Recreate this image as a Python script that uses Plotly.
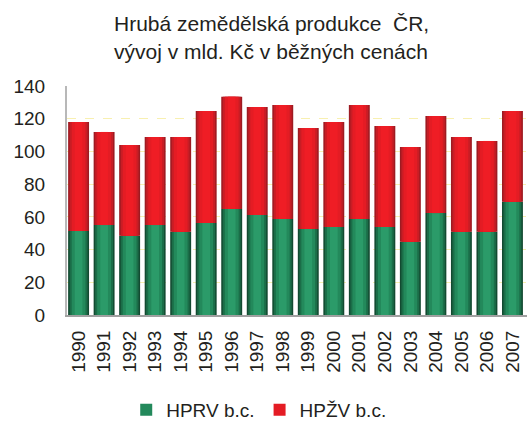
import plotly.graph_objects as go

years = ["1990", "1991", "1992", "1993", "1994", "1995", "1996", "1997", "1998",
         "1999", "2000", "2001", "2002", "2003", "2004", "2005", "2006", "2007"]
hprv = [51.3, 55.0, 48.5, 55.0, 50.9, 56.2, 64.8, 61.1, 58.7,
        52.6, 53.8, 58.7, 53.8, 44.8, 62.3, 50.9, 50.9, 69.3]
total = [118.0, 111.9, 103.9, 108.8, 108.8, 124.7, 133.4, 127.1, 128.4,
         114.3, 118.0, 128.4, 115.5, 102.7, 121.6, 108.8, 106.4, 124.7]
hpzv = [round(t - g, 1) for t, g in zip(total, hprv)]
title_lines = ["Hrubá zemědělská produkce  ČR,", "vývoj v mld. Kč v běžných cenách"]

FONT = "Liberation Sans, Arial, Helvetica, sans-serif"
green_layers = [(0.82, "#134a31"), (0.70, "#1b6d48"), (0.54, "#23895b"), (0.30, "#2b9b69")]
red_layers = [(0.82, "#9e1b22"), (0.70, "#c81d25"), (0.54, "#e41c24"), (0.30, "#ef1d25")]

fig = go.Figure()
for i, (w, c) in enumerate(green_layers):
    fig.add_trace(go.Bar(
        x=years, y=hprv, width=w, marker=dict(color=c, line=dict(width=0)),
        name="HPRV b.c.", showlegend=(i == 2), legendgroup="g",
        hoverinfo="skip" if i != 2 else None))
for i, (w, c) in enumerate(red_layers):
    fig.add_trace(go.Bar(
        x=years, y=hpzv, base=hprv, width=w, marker=dict(color=c, line=dict(width=0)),
        name="HPŽV b.c.", showlegend=(i == 2), legendgroup="r",
        hoverinfo="skip" if i != 2 else None))

title_x = (271 - 67) / 460
fig.update_layout(
    width=528, height=423,
    barmode="overlay",
    paper_bgcolor="white", plot_bgcolor="white",
    margin=dict(l=67, r=1, t=86, b=108),
    font=dict(family=FONT, size=19, color="#231f20"),
    showlegend=True,
    legend=dict(orientation="h", xref="container", yref="container",
                x=0.49, xanchor="center", y=(423 - 410) / 423, yanchor="middle",
                font=dict(size=19), itemwidth=30, tracegroupgap=0,
                traceorder="normal", bgcolor="rgba(0,0,0,0)"),
    annotations=[
        dict(text=title_lines[0], xref="paper", yref="paper", x=title_x, y=1, yshift=63,
             xanchor="center", yanchor="middle", showarrow=False,
             font=dict(size=21, family=FONT, color="#231f20")),
        dict(text=title_lines[1], xref="paper", yref="paper", x=title_x, y=1, yshift=35,
             xanchor="center", yanchor="middle", showarrow=False,
             font=dict(size=21, family=FONT, color="#231f20")),
    ],
)
fig.update_xaxes(
    type="category", range=[-0.454, 17.57],
    tickangle=-90, tickfont=dict(size=19),
    showline=True, linecolor="#a0a0a0", linewidth=2,
    showgrid=False, ticks="", ticklabelstandoff=6,
)
fig.update_yaxes(
    range=[0, 140], dtick=20, tickfont=dict(size=19),
    showline=True, linecolor="#b8b8b8", linewidth=2,
    showgrid=True, gridcolor="#f8f0b0", griddash="dash", gridwidth=1,
    zeroline=False, ticks="", ticklabelstandoff=16,
)
fig.write_html("out.html", config={"displayModeBar": False},
               post_script="document.body.style.margin='0';document.body.style.padding='0';")
